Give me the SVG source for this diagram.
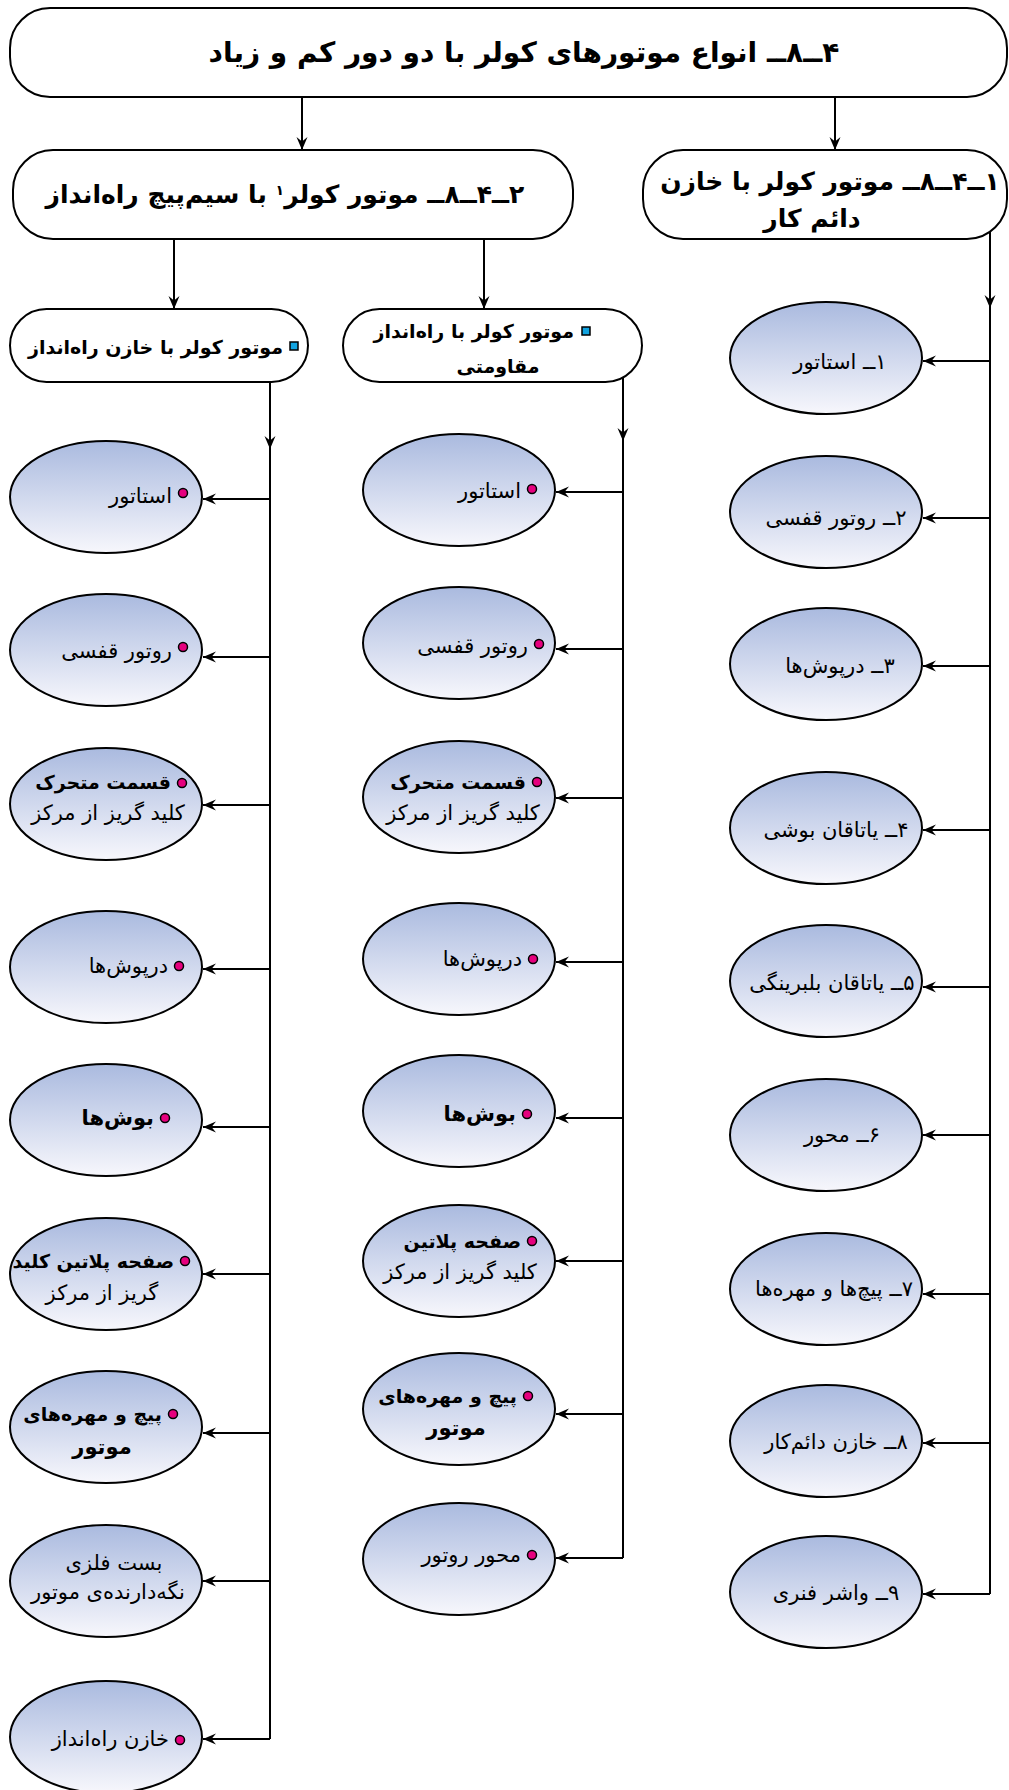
<svg xmlns="http://www.w3.org/2000/svg" width="1009" height="1790" viewBox="0 0 1009 1790">
<defs>
<linearGradient id="eg" x1="0" y1="0" x2="0" y2="1">
<stop offset="0" stop-color="#AABADF"/>
<stop offset="1" stop-color="#F7F7FC"/>
</linearGradient>
<marker id="ah" markerWidth="14" markerHeight="12" refX="13" refY="6" orient="auto" markerUnits="userSpaceOnUse">
<path d="M0,0.5 L13,6 L0,11.5 L4.5,6 z" fill="#000"/>
</marker>
</defs>
<style>
.box{fill:#fff;stroke:#000;stroke-width:2}
.ell{fill:url(#eg);stroke:#000;stroke-width:2}
.ln{fill:none;stroke:#000;stroke-width:2}
.ar{fill:none;stroke:#000;stroke-width:2;marker-end:url(#ah)}
text{font-family:"DejaVu Sans",sans-serif;fill:#000;direction:rtl}
.t1{font-size:28px;font-weight:bold;text-anchor:middle}
.t2{font-size:25px;font-weight:bold;text-anchor:middle}
.t3{font-size:19px;font-weight:bold}
.r{text-anchor:start}
.c{text-anchor:middle}
.e{font-size:21px}
.eb{font-size:21px;font-weight:bold}
.es{font-size:19px;font-weight:bold}
.bul{fill:#E6007E;stroke:#000;stroke-width:1.5}
.sq{fill:#11A3E0;stroke:#000;stroke-width:1.5}
</style>

<g id="connectors">
<path class="ar" d="M302,97 V150"/>
<path class="ar" d="M835,97 V150"/>
<path class="ar" d="M174,239 V309"/>
<path class="ar" d="M484,239 V309"/>
<path class="ar" d="M270,382 V449"/>
<path class="ln" d="M270,447 V1739"/>
<path class="ar" d="M270,499 H203"/>
<path class="ar" d="M270,657 H203"/>
<path class="ar" d="M270,805 H203"/>
<path class="ar" d="M270,969 H203"/>
<path class="ar" d="M270,1127 H203"/>
<path class="ar" d="M270,1274 H203"/>
<path class="ar" d="M270,1433 H203"/>
<path class="ar" d="M270,1581 H203"/>
<path class="ar" d="M270,1739 H203"/>
<path class="ar" d="M623,377 V441"/>
<path class="ln" d="M623,439 V1558"/>
<path class="ar" d="M623,492 H556"/>
<path class="ar" d="M623,649 H556"/>
<path class="ar" d="M623,798 H556"/>
<path class="ar" d="M623,962 H556"/>
<path class="ar" d="M623,1118 H556"/>
<path class="ar" d="M623,1261 H556"/>
<path class="ar" d="M623,1414 H556"/>
<path class="ar" d="M623,1558 H556"/>
<path class="ar" d="M990,230 V308"/>
<path class="ln" d="M990,306 V1594"/>
<path class="ar" d="M990,361 H923"/>
<path class="ar" d="M990,518 H923"/>
<path class="ar" d="M990,666 H923"/>
<path class="ar" d="M990,830 H923"/>
<path class="ar" d="M990,987 H923"/>
<path class="ar" d="M990,1135 H923"/>
<path class="ar" d="M990,1294 H923"/>
<path class="ar" d="M990,1443 H923"/>
<path class="ar" d="M990,1594 H923"/>
</g>

<g id="n-top">
<rect class="box" x="10" y="8" width="997" height="89" rx="40" ry="40"/>
<text class="t1" x="524" y="62">۴ــ۸ــ انواع موتورهای کولر با دو دور کم و زیاد</text>
</g>

<g id="n-box2">
<rect class="box" x="13" y="150" width="560" height="89" rx="40" ry="40"/>
<text class="t2" x="285" y="203">۲ــ۴ــ۸ــ موتور کولر<tspan font-size="14" baseline-shift="60%">۱</tspan> با سیم‌پیچ راه‌انداز</text>
</g>

<g id="n-box1">
<rect class="box" x="643" y="150" width="364" height="89" rx="40" ry="40"/>
<text class="t2" x="830" y="190">۱ــ۴ــ۸ــ موتور کولر با خازن</text>
<text class="t2" x="812" y="227">دائم کار</text>
</g>

<g id="n-left">
<rect class="box" x="10" y="309" width="298" height="73" rx="36.5" ry="36.5"/>
<rect class="sq" x="290" y="342" width="8" height="8"/>
<text class="t3 r" x="283" y="354">موتور کولر با خازن راه‌انداز</text>
</g>

<g id="n-mid">
<rect class="box" x="343" y="309" width="299" height="73" rx="36.5" ry="36.5"/>
<rect class="sq" x="582" y="327" width="8" height="8"/>
<text class="t3 r" x="574" y="338">موتور کولر با راه‌انداز</text>
<text class="t3 c" x="498" y="373">مقاومتی</text>
</g>

<g id="l1"><ellipse class="ell" cx="106" cy="497" rx="96" ry="56"/><circle class="bul" cx="183" cy="493" r="4.5"/><text class="e r" x="172" y="503">استاتور</text></g>
<g id="l2"><ellipse class="ell" cx="106" cy="650" rx="96" ry="56"/><circle class="bul" cx="183" cy="647" r="4.5"/><text class="e r" x="172" y="658">روتور قفسی</text></g>
<g id="l3"><ellipse class="ell" cx="106" cy="804" rx="96" ry="56"/><circle class="bul" cx="182" cy="783" r="4.5"/><text class="es r" x="171" y="789">قسمت متحرک</text><text class="e c" x="108" y="820">کلید گریز از مرکز</text></g>
<g id="l4"><ellipse class="ell" cx="106" cy="967" rx="96" ry="56"/><circle class="bul" cx="179" cy="966" r="4.5"/><text class="e r" x="168" y="973">درپوش‌ها</text></g>
<g id="l5"><ellipse class="ell" cx="106" cy="1120" rx="96" ry="56"/><circle class="bul" cx="165" cy="1118" r="4.5"/><text class="eb r" x="154" y="1125">بوش‌ها</text></g>
<g id="l6"><ellipse class="ell" cx="106" cy="1274" rx="96" ry="56"/><circle class="bul" cx="185" cy="1261" r="4.5"/><text class="es r" x="174" y="1268">صفحه پلاتین کلید</text><text class="e c" x="102" y="1300">گریز از مرکز</text></g>
<g id="l7"><ellipse class="ell" cx="106" cy="1427" rx="96" ry="56"/><circle class="bul" cx="173" cy="1414" r="4.5"/><text class="es r" x="162" y="1421">پیچ و مهره‌های</text><text class="eb c" x="102" y="1454">موتور</text></g>
<g id="l8"><ellipse class="ell" cx="106" cy="1581" rx="96" ry="56"/><text class="e c" x="114" y="1570">بست فلزی</text><text class="e c" x="108" y="1599">نگه‌دارنده‌ی موتور</text></g>
<g id="l9"><ellipse class="ell" cx="106" cy="1737" rx="96" ry="56"/><circle class="bul" cx="180" cy="1740" r="4.5"/><text class="e r" x="169" y="1746">خازن راه‌انداز</text></g>

<g id="m1"><ellipse class="ell" cx="459" cy="490" rx="96" ry="56"/><circle class="bul" cx="532" cy="489" r="4.5"/><text class="e r" x="521" y="498">استاتور</text></g>
<g id="m2"><ellipse class="ell" cx="459" cy="643" rx="96" ry="56"/><circle class="bul" cx="539" cy="644" r="4.5"/><text class="e r" x="528" y="653">روتور قفسی</text></g>
<g id="m3"><ellipse class="ell" cx="459" cy="797" rx="96" ry="56"/><circle class="bul" cx="537" cy="782" r="4.5"/><text class="es r" x="526" y="789">قسمت متحرک</text><text class="e c" x="463" y="820">کلید گریز از مرکز</text></g>
<g id="m4"><ellipse class="ell" cx="459" cy="959" rx="96" ry="56"/><circle class="bul" cx="533" cy="959" r="4.5"/><text class="e r" x="522" y="966">درپوش‌ها</text></g>
<g id="m5"><ellipse class="ell" cx="459" cy="1111" rx="96" ry="56"/><circle class="bul" cx="527" cy="1114" r="4.5"/><text class="eb r" x="516" y="1121">بوش‌ها</text></g>
<g id="m6"><ellipse class="ell" cx="459" cy="1261" rx="96" ry="56"/><circle class="bul" cx="532" cy="1241" r="4.5"/><text class="es r" x="521" y="1248">صفحه پلاتین</text><text class="e c" x="460" y="1279">کلید گریز از مرکز</text></g>
<g id="m7"><ellipse class="ell" cx="459" cy="1409" rx="96" ry="56"/><circle class="bul" cx="528" cy="1396" r="4.5"/><text class="es r" x="517" y="1403">پیچ و مهره‌های</text><text class="eb c" x="456" y="1435">موتور</text></g>
<g id="m8"><ellipse class="ell" cx="459" cy="1559" rx="96" ry="56"/><circle class="bul" cx="532" cy="1555" r="4.5"/><text class="e r" x="521" y="1562">محور روتور</text></g>

<g id="r1"><ellipse class="ell" cx="826" cy="358" rx="96" ry="56"/><text class="e c" x="840" y="369">۱ــ استاتور</text></g>
<g id="r2"><ellipse class="ell" cx="826" cy="512" rx="96" ry="56"/><text class="e c" x="836" y="525">۲ــ روتور قفسی</text></g>
<g id="r3"><ellipse class="ell" cx="826" cy="664" rx="96" ry="56"/><text class="e c" x="840" y="673">۳ــ درپوش‌ها</text></g>
<g id="r4"><ellipse class="ell" cx="826" cy="828" rx="96" ry="56"/><text class="e c" x="836" y="837">۴ــ یاتاقان بوشی</text></g>
<g id="r5"><ellipse class="ell" cx="826" cy="981" rx="96" ry="56"/><text class="e c" x="832" y="990">۵ــ یاتاقان بلبرینگی</text></g>
<g id="r6"><ellipse class="ell" cx="826" cy="1135" rx="96" ry="56"/><text class="e c" x="842" y="1142">۶ــ محور</text></g>
<g id="r7"><ellipse class="ell" cx="826" cy="1289" rx="96" ry="56"/><text class="e c" x="834" y="1296">۷ــ پیچ‌ها و مهره‌ها</text></g>
<g id="r8"><ellipse class="ell" cx="826" cy="1441" rx="96" ry="56"/><text class="e c" x="836" y="1449">۸ــ خازن دائم‌کار</text></g>
<g id="r9"><ellipse class="ell" cx="826" cy="1592" rx="96" ry="56"/><text class="e c" x="836" y="1600">۹ــ واشر فنری</text></g>
</svg>
